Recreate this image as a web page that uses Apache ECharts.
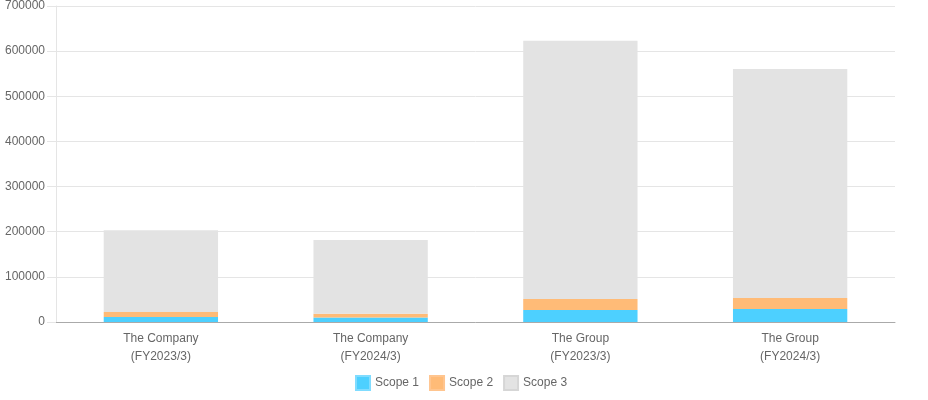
<!DOCTYPE html>
<html>
<head>
<meta charset="utf-8">
<script src="https://cdn.jsdelivr.net/npm/echarts@6/dist/echarts.min.js"></script>
<style>
  html, body { margin: 0; padding: 0; background: #fff; }
  #main { width: 928px; height: 400px; }
</style>
</head>
<body>
<div id="main"></div>
<script>
// data
const categories = ["The Company\n(FY2023/3)", "The Company\n(FY2024/3)", "The Group\n(FY2023/3)", "The Group\n(FY2024/3)"]
const scope1 = [11000, 10000, 26600, 28800]
const scope2 = [11000, 8500, 24400, 24400]
const scope3 = [181000, 163000, 572000, 507500]
const seriesNames = ["Scope 1", "Scope 2", "Scope 3"]

const fills = ["#4dd0ff", "#ffbb77", "#e3e3e3"]
const borders = ["#80dcff", "#ffc58f", "#d6d6d6"]

const textStyle = { fontFamily: "Arial, 'Liberation Sans', sans-serif", fontSize: 12, color: "#666" }

const makeBar = (name, data, i) => ({
  name,
  type: "bar",
  stack: "total",
  barWidth: "54.5%",
  data,
  itemStyle: { color: fills[i] },
  emphasis: { disabled: true }
})

const options = {
  animation: false,
  textStyle,
  grid: { left: 56, right: 33, top: 6, bottom: 78, containLabel: false },
  legend: {
    bottom: 4,
    left: 350,
    itemWidth: 14,
    itemHeight: 14,
    itemGap: 10,
    textStyle: { ...textStyle },
    data: seriesNames.map((n, i) => ({
      name: n,
      icon: "rect",
      itemStyle: { color: fills[i], borderColor: borders[i], borderWidth: 2 }
    }))
  },
  xAxis: {
    type: "category",
    data: categories,
    axisLine: { lineStyle: { color: "#aaa" } },
    axisTick: { show: false },
    axisLabel: { ...textStyle, lineHeight: 18, margin: 8 },
    splitLine: { show: false }
  },
  yAxis: {
    type: "value",
    min: 0,
    max: 700000,
    interval: 100000,
    axisLine: { show: true, lineStyle: { color: "#e5e5e5" } },
    axisTick: { show: true, length: 9, lineStyle: { color: "#e5e5e5" } },
    axisLabel: { ...textStyle, margin: 11, formatter: v => String(v) },
    splitLine: { lineStyle: { color: "#e5e5e5" } }
  },
  series: [
    makeBar(seriesNames[0], scope1, 0),
    makeBar(seriesNames[1], scope2, 1),
    makeBar(seriesNames[2], scope3, 2)
  ]
}

// chart
const myChart = echarts.init(document.getElementById("main"))
myChart.setOption(options)
window.onresize = () => myChart.resize()
</script>
</body>
</html>
